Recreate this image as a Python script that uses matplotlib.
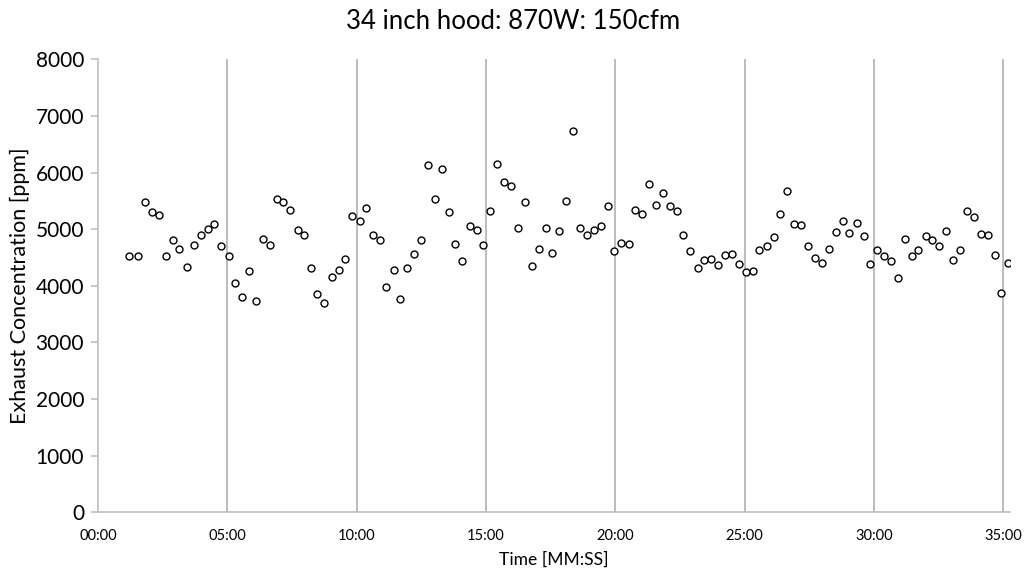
import numpy as np
import matplotlib.pyplot as plt
from matplotlib.ticker import FuncFormatter, MultipleLocator

plt.rcParams['font.family'] = ['Lato', 'DejaVu Sans']

# elapsed time of each sample [s]
time_s = [71, 93, 109, 125, 142, 158, 174, 189, 206, 222, 238, 255, 270, 286,
          303, 318, 334, 350, 367, 382, 398, 415, 430, 446, 463, 479, 493, 509,
          525, 542, 558, 573, 589, 607, 622, 637, 654, 668, 687, 701, 717, 733,
          749, 766, 781, 797, 814, 829, 845, 862, 878, 893, 910, 926, 942, 958,
          974, 990, 1006, 1022,
          1038, 1053, 1070, 1086, 1102, 1118, 1134, 1150, 1166, 1182, 1198, 1214,
          1231, 1246, 1262, 1278, 1294, 1310, 1326, 1342, 1358, 1374, 1391, 1406,
          1422, 1439, 1455, 1471, 1487, 1503, 1519, 1534,
          1551, 1567, 1582, 1599, 1615, 1630, 1647, 1663, 1679, 1695, 1712, 1727,
          1743, 1760, 1776, 1791, 1807, 1824, 1839, 1855, 1871, 1887, 1903, 1920,
          1935, 1951, 1968, 1984, 1999, 2016, 2032, 2047, 2064, 2080, 2095, 2111]

# exhaust concentration [ppm]
conc_ppm = [4523, 4523, 5477, 5306, 5253, 4523, 4816, 4652, 4329, 4728, 4905, 5000,
            5099, 4710, 4523, 4051, 3799, 4263, 3728, 4829, 4723, 5530, 5477, 5336,
            4993, 4899, 4316, 3857,
            3703, 4163, 4281, 4475, 5240, 5141, 5376, 4894, 4806, 3975, 4281, 3763,
            4316, 4569, 4816, 6141, 5535, 6065, 5306, 4740, 4435, 5058, 4988, 4723,
            5323, 6159, 5836, 5760, 5018, 5477, 4346, 4652,
            5028, 4581, 4965, 5500, 6732, 5028, 4905, 4988, 5058, 5417, 4622, 4763,
            4735, 5346, 5265, 5806, 5429, 5641, 5412, 5318, 4905, 4622, 4316, 4458,
            4470, 4375, 4551, 4564, 4387, 4246, 4258, 4629,
            4710, 4869, 5265, 5682, 5099, 5076, 4705, 4498, 4399, 4652, 4958, 5141,
            4940, 5111, 4887, 4382, 4640, 4528, 4435, 4134, 4834, 4534, 4634, 4876,
            4806, 4705, 4970, 4452, 4634, 5318, 5223, 4917, 4899, 4551, 3880, 4399]

t_min = np.array(time_s) / 60.0

fig = plt.figure(figsize=(10.26, 5.69), dpi=100)
ax = fig.add_axes([0.0955, 0.0996, 0.889, 0.7962])

ax.plot(t_min, conc_ppm, linestyle='none', marker='o', markersize=5,
        markerfacecolor='white', markeredgecolor='black', markeredgewidth=1.0,
        zorder=3)

ax.set_xlim(0, 35.26)
ax.set_ylim(0, 8000)
ax.xaxis.set_major_locator(MultipleLocator(5))
ax.yaxis.set_major_locator(MultipleLocator(1000))
ax.xaxis.set_major_formatter(FuncFormatter(lambda v, p: '%02d:00' % int(round(v))))

# vertical gridlines every 5 min
for m in range(5, 40, 5):
    ax.axvline(m, color='#bcbcbc', linewidth=1.4, zorder=1)

for side in ['top', 'right']:
    ax.spines[side].set_visible(False)
for side in ['left', 'bottom']:
    ax.spines[side].set_color('#bfbfbf')
    ax.spines[side].set_linewidth(1.2)

ax.tick_params(axis='y', length=5, width=1.2, color='#bfbfbf', labelsize=15, pad=5)
ax.tick_params(axis='x', length=0, labelsize=10.5, pad=12)

ax.set_xlabel('Time [MM:SS]', fontsize=12.6)
ax.xaxis.set_label_coords(0.5, -0.086)
ax.set_ylabel('Exhaust Concentration [ppm]', fontsize=15.5)
ax.yaxis.set_label_coords(-0.074, 0.5)
fig.suptitle('34 inch hood: 870W: 150cfm', fontsize=18.5, y=0.985)

fig.savefig('out.png', dpi=100)
